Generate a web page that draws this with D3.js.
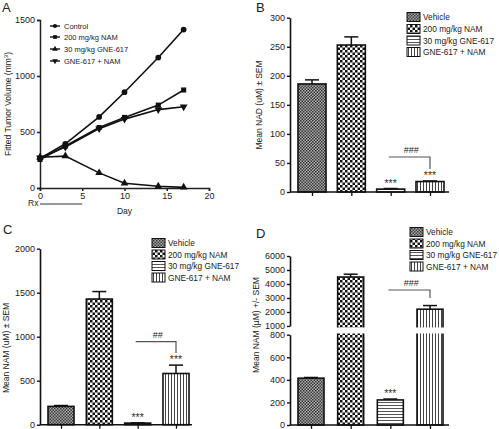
<!DOCTYPE html>
<html><head><meta charset="utf-8">
<script src="https://cdn.jsdelivr.net/npm/d3@7"></script>
<style>body{margin:0;background:#fff}svg{display:block;font-family:"Liberation Sans",Arial,sans-serif}</style>
</head><body><svg id="c" width="499" height="429"></svg>
<script>
// ---- Data ----
const days = [0, 3, 7, 10, 14, 17];
const seriesA = ["Control", "200  mg/kg NAM", "30 mg/kg GNE-617", "GNE-617 + NAM"];
const ctrl = [265, 395, 635, 855, 1165, 1415];
const nam = [255, 375, 540, 630, 740, 875];
const gne = [275, 285, 135, 42, 15, 6];
const combo = [270, 365, 530, 615, 700, 725];
const aXTicks = [0, 5, 10, 15, 20];
const aYTicks = [0, 500, 1000, 1500];

const groups = ["Vehicle", "200 mg/kg NAM", "30 mg/kg GNE-617", "GNE-617 + NAM"];
const nadMean = [186, 253, 5, 18];
const nadSem = [7, 14, 1, 1];
const bTicks = [0, 50, 100, 150, 200, 250, 300];
const namCMean = [208, 1428, 18, 582];
const namCSem = [10, 85, 3, 95];
const cTicks = [0, 500, 1000, 1500, 2000];
const namDMean = [415, 4500, 222, 2200];
const namDSem = [6, 200, 8, 260];
const dLowTicks = [0, 200, 400, 600, 800];
const dHighTicks = [1000, 2000, 3000, 4000, 5000, 6000];

const svg = d3.select("#c");
const defs = svg.append("defs");
function pat(id, w, h, draw) {
  const p = defs.append("pattern").attr("id", id).attr("patternUnits", "userSpaceOnUse").attr("width", w).attr("height", h);
  draw(p);
}
pat("pVeh", 3, 3, p => {
  p.append("rect").attr("width", 3).attr("height", 3).attr("fill", "#a8a8a8");
  p.append("rect").attr("width", 1.5).attr("height", 1.5).attr("fill", "#3a3a3a");
  p.append("rect").attr("x", 1.5).attr("y", 1.5).attr("width", 1.5).attr("height", 1.5).attr("fill", "#3a3a3a");
});
pat("pNam", 5, 5, p => {
  p.append("rect").attr("width", 5).attr("height", 5).attr("fill", "#fff");
  p.append("rect").attr("width", 2.5).attr("height", 2.5).attr("fill", "#111");
  p.append("rect").attr("x", 2.5).attr("y", 2.5).attr("width", 2.5).attr("height", 2.5).attr("fill", "#111");
});
pat("pGne", 3, 3, p => {
  p.append("rect").attr("width", 3).attr("height", 3).attr("fill", "#fff");
  p.append("rect").attr("width", 3).attr("height", 1).attr("fill", "#555");
});
pat("pCombo", 3, 3, p => {
  p.append("rect").attr("width", 3).attr("height", 3).attr("fill", "#fff");
  p.append("rect").attr("width", 1).attr("height", 3).attr("fill", "#444");
});
const fills = ["url(#pVeh)", "url(#pNam)", "url(#pGne)", "url(#pCombo)"];

const FS = 9;
const fmt = d3.format("d");
function txt(g, x, y, s, opt = {}) {
  return g.append("text").attr("x", x).attr("y", y).text(s)
    .attr("font-size", opt.size || FS).attr("fill", opt.fill || "#222")
    .attr("text-anchor", opt.anchor || "start");
}
function letter(x, y, s) { txt(svg, x, y, s, { size: 13 }); }

// ---- Panel A ----
{
  const x = d3.scaleLinear().domain([0, 20]).range([40, 209]);
  const y = d3.scaleLinear().domain([0, 1500]).range([188, 20]);
  const g = svg.append("g");
  const ya = g.append("g").attr("transform", "translate(40,0)")
    .call(d3.axisLeft(y).tickValues(aYTicks).tickFormat(fmt).tickSize(3).tickPadding(2));
  const xa = g.append("g").attr("transform", "translate(0,188)")
    .call(d3.axisBottom(x).tickValues(aXTicks).tickFormat(fmt).tickSize(3).tickPadding(2));
  [ya, xa].forEach(a => {
    a.select(".domain").attr("stroke", "#222").attr("stroke-width", 1.5);
    a.selectAll(".tick line").attr("stroke", "#222").attr("stroke-width", 1.5);
    a.selectAll("text").attr("font-size", FS).attr("fill", "#222").attr("font-family", "Liberation Sans, Arial");
  });
  const line = d3.line().x((d, i) => x(days[i])).y(d => y(d));
  const data = [ctrl, nam, gne, combo];
  const sym = [d3.symbolCircle, d3.symbolSquare, d3.symbolTriangle, d3.symbolTriangle];
  data.forEach((s, k) => {
    g.append("path").attr("d", line(s)).attr("fill", "none").attr("stroke", "#111").attr("stroke-width", 1.6);
    s.forEach((v, i) => {
      g.append("path").attr("d", d3.symbol(sym[k], 26)())
        .attr("transform", `translate(${x(days[i])},${y(v)})` + (k === 3 ? " rotate(180)" : ""))
        .attr("fill", "#111");
    });
  });
  const ly = [26, 37, 49, 61];
  seriesA.forEach((s, k) => {
    g.append("line").attr("x1", 50).attr("x2", 60).attr("y1", ly[k]).attr("y2", ly[k]).attr("stroke", "#111").attr("stroke-width", 1.4);
    g.append("path").attr("d", d3.symbol(sym[k], 14)()).attr("transform", `translate(55,${ly[k]})` + (k === 3 ? " rotate(180)" : "")).attr("fill", "#111");
    txt(g, 64, ly[k] + 2.5, s, { size: 7.5 });
  });
  g.append("line").attr("x1", x(0)).attr("x2", x(5)).attr("y1", 204).attr("y2", 204).attr("stroke", "#333").attr("stroke-width", 1);
  txt(g, 28, 206, "Rx", { size: 8.5 });
  txt(g, x(10), 214, "Day", { size: 8.5, anchor: "middle" });
  const yl = g.append("text").attr("transform", "translate(11,104) rotate(-90)").attr("text-anchor", "middle")
    .attr("font-size", 8.5).attr("fill", "#222");
  yl.append("tspan").text("Fitted Tumor Volume (mm");
  yl.append("tspan").text("3").attr("font-size", 6).attr("dy", -3);
  yl.append("tspan").text(")").attr("dy", 3);
  letter(2, 12, "A");
}

// ---- Bar panel helper ----
function barPanel(opt) {
  const g = svg.append("g");
  const x = d3.scalePoint().domain(groups).range(opt.xr);
  const bw = opt.bw;
  const y = opt.y;
  groups.forEach((gname, i) => {
    const m = opt.mean[i], s = opt.sem[i];
    const cx = x(gname);
    const top = y(m), base = opt.base;
    g.append("line").attr("x1", cx).attr("x2", cx).attr("y1", y(m + s)).attr("y2", top).attr("stroke", "#111").attr("stroke-width", 1.5);
    g.append("line").attr("x1", cx - 7).attr("x2", cx + 7).attr("y1", y(m + s)).attr("y2", y(m + s)).attr("stroke", "#111").attr("stroke-width", 1.5);
    g.append("rect").attr("x", cx - bw / 2).attr("y", top).attr("width", bw).attr("height", Math.max(base - top, 1))
      .attr("fill", fills[i]).attr("stroke", "#111").attr("stroke-width", 1.6);
  });
  const xa = g.append("g").attr("transform", `translate(0,${opt.base})`)
    .call(d3.axisBottom(x).tickSize(4).tickFormat(""));
  xa.select(".domain").attr("d", `M${opt.x0},0H${opt.x1}`);
  xa.select(".domain").attr("stroke", "#111").attr("stroke-width", 1.6);
  xa.selectAll(".tick line").attr("stroke", "#111").attr("stroke-width", 1.3);
  opt.yAxes.forEach(ax => {
    const a = g.append("g").attr("transform", `translate(${opt.x0},0)`)
      .call(d3.axisLeft(ax.scale).tickValues(ax.ticks).tickFormat(fmt).tickSize(3).tickPadding(2).tickSizeOuter(0));
    a.select(".domain").attr("stroke", "#111").attr("stroke-width", 1.6);
    a.selectAll(".tick line").attr("stroke", "#111").attr("stroke-width", 1.4);
    a.selectAll("text").attr("font-size", FS).attr("fill", "#222").attr("font-family", "Liberation Sans, Arial");
  });
  opt.stars.forEach(i => {
    const cx = x(groups[i]);
    txt(g, cx, y(opt.mean[i] + opt.sem[i]) - 2, "***", { size: 10.5, anchor: "middle", fill: "#333" });
  });
  const br = opt.bracket;
  const xa1 = x(groups[2]) - 2, xa2 = x(groups[3]);
  g.append("path").attr("d", `M${xa1},${br.y}H${xa2}V${br.y2}`).attr("fill", "none").attr("stroke", "#555").attr("stroke-width", 1.2);
  txt(g, (xa1 + xa2) / 2 + 2, br.y - 4, br.label, { size: 9, anchor: "middle" });
  groups.forEach((gname, i) => {
    const ly = opt.leg.y[i];
    g.append("rect").attr("x", opt.leg.x).attr("y", ly - 4.5).attr("width", 13).attr("height", 9)
      .attr("fill", fills[i]).attr("stroke", "#111").attr("stroke-width", 1);
    txt(g, opt.leg.x + 16, ly + 3.3, gname, { size: 8.3 });
  });
  g.append("text").attr("transform", `translate(${opt.ylab[0]},${opt.ylab[1]}) rotate(-90)`).attr("text-anchor", "middle")
    .attr("font-size", 8.5).attr("fill", "#222").text(opt.ylabel);
  return { g, x };
}

// ---- Panel B ----
{
  const y = d3.scaleLinear().domain([0, 300]).range([192, 17.7]);
  barPanel({
    xr: [312, 430], bw: 28, y, base: 192, x0: 290, x1: 449,
    mean: nadMean, sem: nadSem,
    yAxes: [{ scale: y, ticks: bTicks }],
    stars: [2, 3], bracket: { y: 157, y2: 169, label: "###" },
    leg: { x: 407, y: [17, 29, 40.5, 52] },
    ylab: [262, 105], ylabel: "Mean NAD (uM) \u00b1 SEM"
  });
  letter(256, 12, "B");
}

// ---- Panel C ----
{
  const y = d3.scaleLinear().domain([0, 2000]).range([424.7, 248.7]);
  barPanel({
    xr: [61, 176], bw: 26, y, base: 424.7, x0: 40, x1: 192,
    mean: namCMean, sem: namCSem,
    yAxes: [{ scale: y, ticks: cTicks }],
    stars: [2, 3], bracket: { y: 341.7, y2: 353, label: "##" },
    leg: { x: 152, y: [243, 254.5, 266, 277.5] },
    ylab: [9, 348], ylabel: "Mean NAM (uM) \u00b1 SEM"
  });
  letter(3, 234, "C");
}

// ---- Panel D (broken axis) ----
{
  const yLow = d3.scaleLinear().domain([0, 800]).range([425, 334.7]);
  const yHigh = d3.scaleLinear().domain([1000, 6000]).range([326, 256]);
  const y = v => v <= 900 ? yLow(v) : yHigh(v);
  const { g } = barPanel({
    xr: [311, 430], bw: 26, y, base: 425, x0: 290, x1: 449,
    mean: namDMean, sem: namDSem,
    yAxes: [{ scale: yLow, ticks: dLowTicks }, { scale: yHigh, ticks: dHighTicks }],
    stars: [2], bracket: { y: 290, y2: 298, label: "###" },
    leg: { x: 410, y: [232, 243.5, 255, 266.5] },
    ylab: [259, 325], ylabel: "Mean NAM (\u00b5M) +/- SEM"
  });
  g.append("rect").attr("x", 288).attr("y", 327.5).attr("width", 160).attr("height", 6).attr("fill", "#fff");
  letter(256, 238, "D");
}
</script></body></html>
